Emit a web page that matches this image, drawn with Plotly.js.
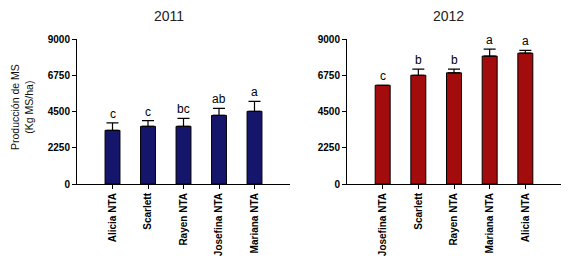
<!DOCTYPE html>
<html><head><meta charset="utf-8">
<script src="https://cdn.plot.ly/plotly-3.0.1.min.js"></script>
<style>html,body{margin:0;padding:0;background:#fff}#c{width:572px;height:270px}</style>
</head><body><div id="c"></div>
<script>
const cats2011 = ["Alicia NTA", "Scarlett", "Rayen NTA", "Josefina NTA", "Mariana NTA"];
const vals2011 = [3330, 3580, 3580, 4260, 4510];
const err2011 = [470, 350, 490, 440, 620];
const letters2011 = ["c", "c", "bc", "ab", "a"];

const cats2012 = ["Josefina NTA", "Scarlett", "Rayen NTA", "Mariana NTA", "Alicia NTA"];
const vals2012 = [6130, 6750, 6900, 7940, 8120];
const err2012 = [0, 380, 230, 430, 170];
const letters2012 = ["c", "b", "b", "a", "a"];

const yTicks = [0, 2250, 4500, 6750, 9000];
const titles = ["2011", "2012"];

const idx = a => a.map((_, i) => i);

function barTrace(cats, vals, errs, color, xa, ya) {
  return {
    type: "bar", x: idx(cats), y: vals, xaxis: xa, yaxis: ya, width: 0.42,
    marker: {color: color, line: {color: "#000", width: 1}},
    error_y: {type: "data", symmetric: false, array: errs, arrayminus: errs.map(() => 0),
      color: "#000", thickness: 1.2, width: 6},
    hoverinfo: "none", showlegend: false
  };
}

const data = [
  barTrace(cats2011, vals2011, err2011, "#15166b", "x", "y"),
  barTrace(cats2012, vals2012, err2012, "#a30c0c", "x2", "y2")
];

const annotations = [];
letters2011.forEach((t, i) => annotations.push({xref: "x", yref: "y", x: i, y: vals2011[i] + err2011[i],
  text: t, showarrow: false, yanchor: "bottom", yshift: 0, font: {family: "Arial, Liberation Sans", size: 12, color: "#000"}}));
letters2012.forEach((t, i) => annotations.push({xref: "x2", yref: "y2", x: i, y: vals2012[i] + err2012[i],
  text: t, showarrow: false, yanchor: "bottom", yshift: 0, font: {family: "Arial, Liberation Sans", size: 12, color: "#000"}}));
annotations.push({xref: "paper", yref: "paper", x: 169/572, y: 1 - 16/270, text: titles[0], showarrow: false,
  xanchor: "center", yanchor: "middle", font: {family: "Arial, Liberation Sans", size: 14, color: "#222"}});
annotations.push({xref: "paper", yref: "paper", x: 448/572, y: 1 - 16/270, text: titles[1], showarrow: false,
  xanchor: "center", yanchor: "middle", font: {family: "Arial, Liberation Sans", size: 14, color: "#222"}});

function xAxis(cats, domain, anchor) {
  return {domain: domain, anchor: anchor, range: [-1, 5], tickmode: "array", tickvals: idx(cats),
    ticktext: cats.map(c => "<b>" + c + "</b>"), tickangle: -90, ticks: "outside", ticklen: 4, tickcolor: "#000",
    showline: true, linecolor: "#000", linewidth: 1, showgrid: false, zeroline: false, fixedrange: true,
    tickfont: {family: "Arial, Liberation Sans", size: 10, color: "#000"}};
}
function yAxis(domain, anchor) {
  return {domain: domain, anchor: anchor, range: [0, 9000], tickmode: "array", tickvals: yTicks,
    ticktext: yTicks.map(v => "<b>" + v + "</b>"), ticks: "outside", ticklen: 4, tickcolor: "#000",
    showline: true, linecolor: "#000", linewidth: 1, showgrid: false, zeroline: false, fixedrange: true,
    tickfont: {family: "Arial, Liberation Sans", size: 10, color: "#000"}};
}

const yDom = [(270 - 184) / 270, (270 - 39) / 270];
const layout = {
  width: 572, height: 270, margin: {l: 0, r: 0, t: 0, b: 0}, paper_bgcolor: "#fff", plot_bgcolor: "#fff",
  xaxis: xAxis(cats2011, [77/572, 290/572], "y"),
  yaxis: yAxis(yDom, "x"),
  xaxis2: xAxis(cats2012, [347/572, 561/572], "y2"),
  yaxis2: yAxis(yDom, "x2"),
  annotations: annotations.concat([{xref: "paper", yref: "paper", x: 22/572, y: 1 - 107/270,
    text: "Producción de MS<br>(Kg MS/ha)", showarrow: false, textangle: -90, xanchor: "center", yanchor: "middle",
    font: {family: "Arial, Liberation Sans", size: 10.5, color: "#111"}}]),
  bargap: 0
};
Plotly.newPlot("c", data, layout, {displayModeBar: false, staticPlot: true});
</script></body></html>
